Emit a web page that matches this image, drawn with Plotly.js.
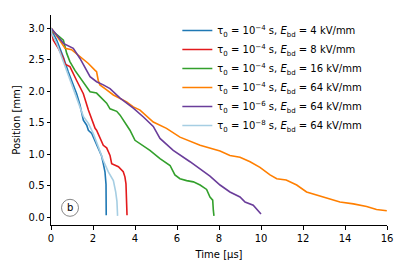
<!DOCTYPE html>
<html>
<head>
<meta charset="utf-8">
<script src="https://cdn.plot.ly/plotly-3.0.1.min.js"></script>
<style>html,body{margin:0;padding:0;background:#fff;}#chart{width:407px;height:271px;}</style>
</head>
<body>
<div id="chart"></div>
<script>
// Time [µs] and position [mm] for each run
const blueX = [0, 0.03, 0.27, 0.59, 0.82, 0.98, 1.22, 1.38, 1.46, 1.54, 1.7, 1.78, 1.94, 2.17, 2.33, 2.41, 2.49, 2.57, 2.62, 2.63, 2.63];
const blueY = [3.0, 2.97, 2.81, 2.54, 2.31, 2.17, 1.96, 1.78, 1.65, 1.54, 1.46, 1.38, 1.33, 1.15, 1.01, 0.97, 0.85, 0.72, 0.52, 0.3, 0.03];

const redX = [0, 0.11, 0.35, 0.59, 0.67, 0.9, 1.22, 1.54, 1.78, 1.94, 2.1, 2.17, 2.33, 2.49, 2.65, 2.81, 2.89, 3.05, 3.21, 3.44, 3.52, 3.57, 3.6, 3.62];
const redY = [3.0, 2.81, 2.68, 2.52, 2.43, 2.39, 2.17, 1.96, 1.7, 1.54, 1.41, 1.38, 1.25, 1.14, 1.1, 0.98, 0.85, 0.82, 0.8, 0.72, 0.64, 0.53, 0.27, 0.03];

const greenX = [0, 0.11, 0.35, 0.59, 0.75, 0.9, 1.14, 1.3, 1.62, 1.86, 2.17, 2.41, 2.65, 2.81, 3.13, 3.29, 3.6, 3.76, 4.0, 4.24, 4.71, 5.19, 5.67, 5.9, 6.14, 6.46, 6.78, 7.1, 7.41, 7.57, 7.7, 7.73, 7.76];
const greenY = [3.0, 2.94, 2.88, 2.81, 2.6, 2.47, 2.33, 2.25, 2.1, 1.99, 1.97, 1.89, 1.81, 1.72, 1.68, 1.62, 1.46, 1.38, 1.22, 1.17, 1.06, 0.93, 0.82, 0.67, 0.61, 0.58, 0.56, 0.51, 0.44, 0.32, 0.27, 0.11, 0.02];

const orangeX = [0, 0.03, 0.35, 0.67, 0.98, 1.3, 1.78, 2.1, 2.17, 2.25, 2.33, 2.65, 2.97, 3.6, 3.92, 4.24, 4.87, 5.5, 6.14, 7.1, 7.57, 8.05, 8.52, 9.0, 9.48, 9.95, 10.43, 10.75, 11.2, 11.7, 12.17, 12.65, 13.13, 13.76, 14.4, 15.03, 15.5, 15.99];
const orangeY = [3.0, 2.99, 2.84, 2.68, 2.66, 2.57, 2.44, 2.33, 2.31, 2.17, 2.1, 2.02, 1.94, 1.83, 1.75, 1.7, 1.51, 1.41, 1.27, 1.14, 1.09, 1.05, 0.98, 0.95, 0.88, 0.79, 0.67, 0.61, 0.59, 0.51, 0.4, 0.35, 0.3, 0.24, 0.21, 0.17, 0.12, 0.1];

const purpleX = [0, 0.03, 0.35, 0.59, 1.06, 1.38, 1.86, 2.17, 2.49, 2.81, 3.29, 3.92, 4.4, 4.87, 5.19, 5.82, 6.62, 7.1, 7.57, 8.05, 8.52, 9.0, 9.24, 9.63, 9.87, 10.0];
const purpleY = [3.0, 2.99, 2.86, 2.76, 2.68, 2.52, 2.23, 2.15, 2.1, 2.04, 1.89, 1.73, 1.59, 1.44, 1.25, 1.06, 0.88, 0.76, 0.65, 0.51, 0.4, 0.32, 0.24, 0.19, 0.11, 0.05];

const lightX = [0, 0.03, 0.27, 0.51, 0.75, 0.98, 1.22, 1.38, 1.54, 1.78, 2.01, 2.25, 2.49, 2.73, 2.97, 3.08, 3.14, 3.16, 3.17];
const lightY = [3.0, 2.92, 2.76, 2.54, 2.33, 2.12, 1.91, 1.73, 1.6, 1.49, 1.33, 1.12, 0.9, 0.72, 0.58, 0.4, 0.25, 0.1, 0.02];

const seriesNames = [
  "τ<sub>0</sub> = 10<sup>−4</sup> s, <i>E</i><sub>bd</sub> = 4 kV/mm",
  "τ<sub>0</sub> = 10<sup>−4</sup> s, <i>E</i><sub>bd</sub> = 8 kV/mm",
  "τ<sub>0</sub> = 10<sup>−4</sup> s, <i>E</i><sub>bd</sub> = 16 kV/mm",
  "τ<sub>0</sub> = 10<sup>−4</sup> s, <i>E</i><sub>bd</sub> = 64 kV/mm",
  "τ<sub>0</sub> = 10<sup>−6</sup> s, <i>E</i><sub>bd</sub> = 64 kV/mm",
  "τ<sub>0</sub> = 10<sup>−8</sup> s, <i>E</i><sub>bd</sub> = 64 kV/mm"
];
const xTicks = [0, 2, 4, 6, 8, 10, 12, 14, 16];
const yTicks = [0, 0.5, 1.0, 1.5, 2.0, 2.5, 3.0];

const colors = ["#1f78b4", "#e31a1c", "#33a02c", "#ff7f00", "#6a3d9a", "#a6cee3"];
const xs = [blueX, redX, greenX, orangeX, purpleX, lightX];
const ys = [blueY, redY, greenY, orangeY, purpleY, lightY];

const traces = xs.map((x, i) => ({
  x: x, y: ys[i], type: "scatter", mode: "lines", name: seriesNames[i],
  line: {color: colors[i], width: 1.6}
}));

const font = {family: "DejaVu Sans, sans-serif", size: 10, color: "#000"};
const layout = {
  width: 407, height: 271,
  margin: {l: 51, r: 20, t: 15, b: 46},
  paper_bgcolor: "#fff", plot_bgcolor: "#fff",
  font: font,
  showlegend: true,
  legend: {x: 0.376, y: 0.995, xanchor: "left", yanchor: "top", bgcolor: "rgba(0,0,0,0)",
           font: {family: "DejaVu Sans, sans-serif", size: 10, color: "#000"}, itemwidth: 30, tracegroupgap: 0},
  xaxis: {
    range: [0, 16], tickvals: xTicks, ticktext: xTicks.map(String),
    showgrid: false, zeroline: false, showline: true, linecolor: "#000", linewidth: 1,
    ticks: "outside", ticklen: 3.5, tickcolor: "#000", tickfont: font,
    title: {text: "Time [µs]", font: font, standoff: 8}
  },
  yaxis: {
    range: [-0.125, 3.21], tickvals: yTicks, ticktext: yTicks.map(v => v.toFixed(1)),
    showgrid: false, zeroline: false, showline: true, linecolor: "#000", linewidth: 1,
    ticks: "outside", ticklen: 3.5, tickcolor: "#000", tickfont: font,
    title: {text: "Position [mm]", font: font, standoff: 6}
  },
  shapes: [{
    type: "circle", xref: "x", yref: "y", xsizemode: "pixel", ysizemode: "pixel",
    xanchor: 0.905, yanchor: 0.148, x0: -8.5, x1: 8.5, y0: -8.5, y1: 8.5,
    line: {color: "#888", width: 1}
  }],
  annotations: [{
    x: 0.905, y: 0.148, xref: "x", yref: "y", text: "b", showarrow: false,
    font: {family: "DejaVu Sans, sans-serif", size: 10, color: "#000"}
  }]
};
Plotly.newPlot("chart", traces, layout, {displayModeBar: false, staticPlot: true});
</script>
</body>
</html>
